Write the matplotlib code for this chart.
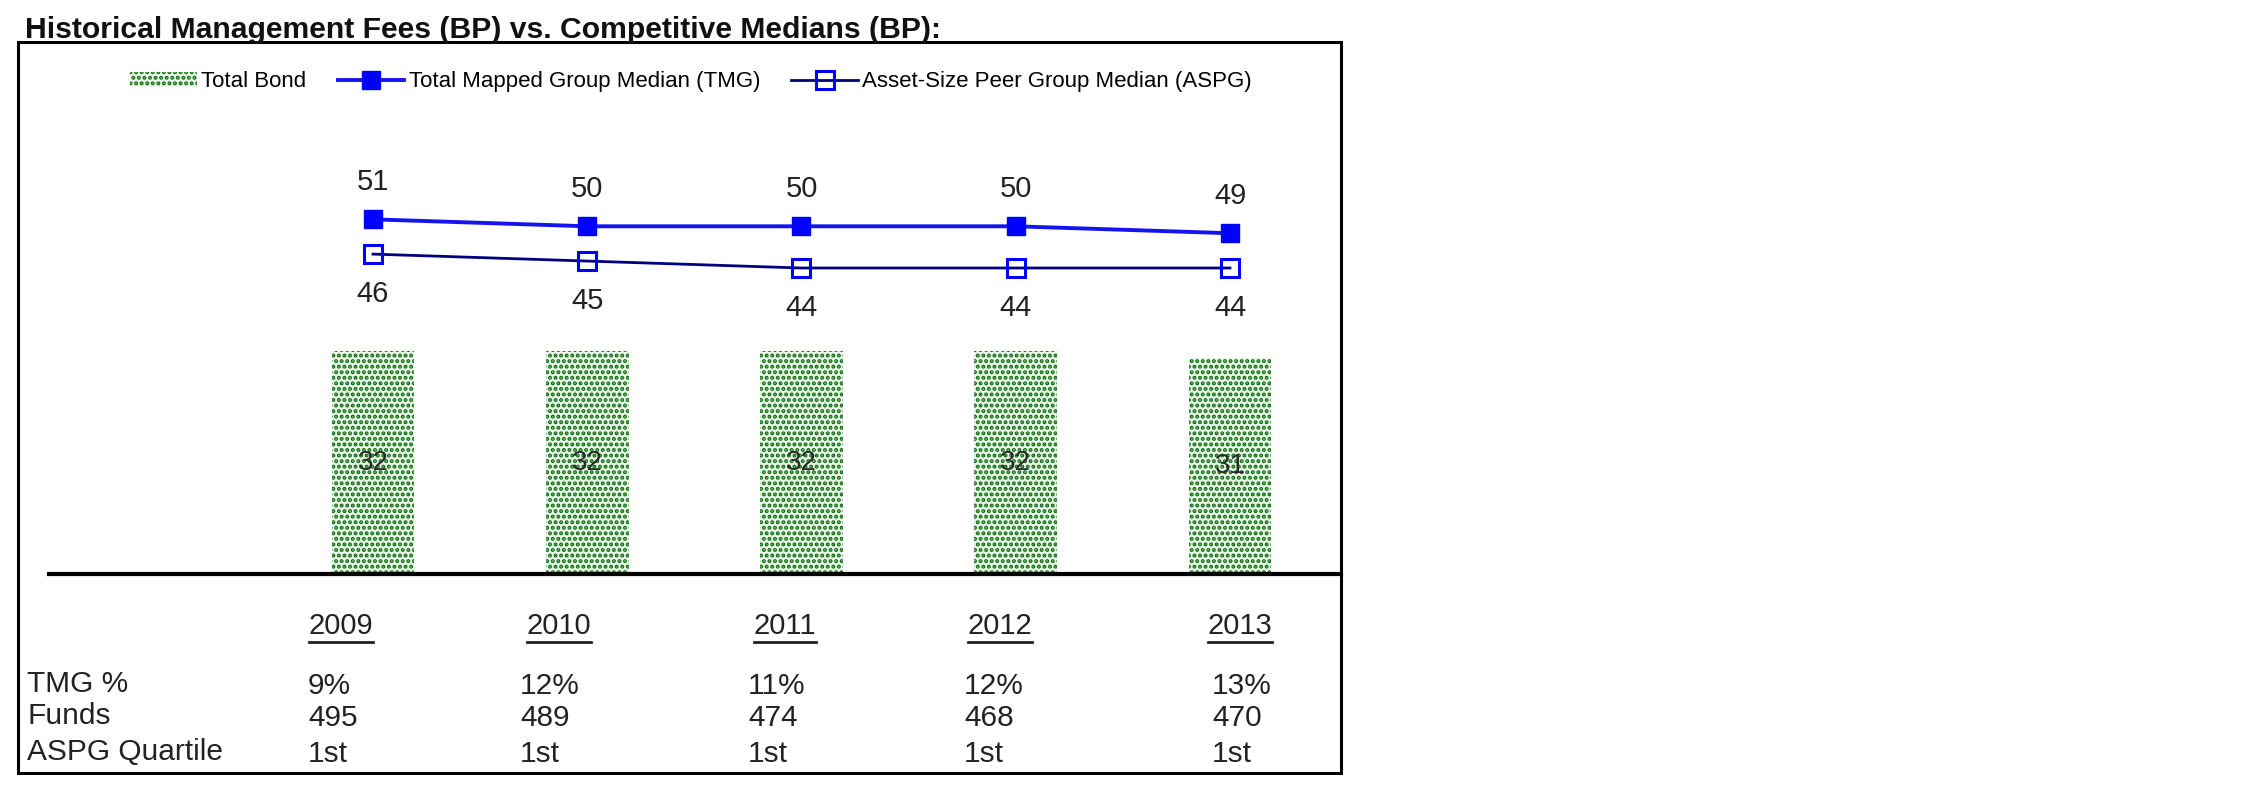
import matplotlib.pyplot as plt
import numpy as np
from matplotlib.patches import Rectangle
from matplotlib.lines import Line2D

plt.rcParams['font.family'] = ['Liberation Sans', 'DejaVu Sans']
plt.rcParams['hatch.linewidth'] = 2.0

# datos
years = ['2009', '2010', '2011', '2012', '2013']
total_bond = [32, 32, 32, 32, 31]
tmg_median = [51, 50, 50, 50, 49]
aspg_median = [46, 45, 44, 44, 44]
tmg_pct = ['9%', '12%', '11%', '12%', '13%']
funds = [495, 489, 474, 468, 470]
aspg_quartile = ['1st', '1st', '1st', '1st', '1st']

W, H = 2251, 798
fig = plt.figure(figsize=(W / 100, H / 100), dpi=100)


def fx(px):
    return px / W


def fy(py):
    return 1 - py / H


# area del grafico (pixeles)
ax = fig.add_axes([fx(49), fy(574), fx(1341) - fx(49), fy(42) - fy(574)])
x = np.arange(len(years))

bars = ax.bar(x, total_bond, width=0.387, color='#eaf5ea', edgecolor='#0a6e0a',
              linewidth=0, hatch='...', label='Total Bond')
for xi, v in zip(x, total_bond):
    ax.text(xi, v / 2, str(v), ha='center', va='center', fontsize=20, color='#2a2a2a')

l_tmg, = ax.plot(x, tmg_median, color='#1414f0', lw=2.8, marker='s', ms=13,
                 mfc='#0000ff', mec='#0000ff', label='Total Mapped Group Median (TMG)')
l_aspg, = ax.plot(x, aspg_median, color='#000080', lw=2.0, marker='s', ms=12.5,
                  mfc='none', mec='#0000ff', mew=2.2, label='Asset-Size Peer Group Median (ASPG)')

for xi, v in zip(x, tmg_median):
    ax.annotate(str(v), (xi, v), xytext=(0, 27), textcoords='offset points',
                ha='center', va='center', fontsize=21, color='#222222')
for xi, v in zip(x, aspg_median):
    ax.annotate(str(v), (xi, v), xytext=(0, -29), textcoords='offset points',
                ha='center', va='center', fontsize=21, color='#222222')

ax.set_xlim(-1.512, 4.518)
ax.set_ylim(0, 76.5)
ax.set_xticks([])
ax.set_yticks([])
for s in ['top', 'left', 'right']:
    ax.spines[s].set_visible(False)
ax.spines['bottom'].set_linewidth(3)
ax.spines['bottom'].set_color('black')

ax.legend(handles=[bars, l_tmg, l_aspg], loc='center', bbox_to_anchor=(0.497, 0.925),
          ncol=3, frameon=False, fontsize=16, handlelength=3.0, handletextpad=0.2,
          columnspacing=1.4)

# titulo y recuadro
fig.text(fx(25), fy(38), 'Historical Management Fees (BP) vs. Competitive Medians (BP):',
         fontsize=21.7, fontweight='bold', va='baseline', ha='left', color='#111111')
fig.add_artist(Rectangle((fx(18), fy(773)), fx(1341) - fx(18), fy(42) - fy(773),
                         transform=fig.transFigure, fill=False, lw=2.2, color='black'))

# tabla inferior
year_x = [341, 559, 785, 1000, 1240]
col_x = [308, 520, 748, 964, 1212]
row_y = [684, 716, 752]
row_labels = ['TMG %', 'Funds', 'ASPG Quartile']
rows = [tmg_pct, [str(f) for f in funds], aspg_quartile]

year_texts = []
for xc, yr in zip(year_x, years):
    t = fig.text(fx(xc), fy(626), yr, ha='center', va='center', fontsize=21, color='#222222')
    year_texts.append(t)

for ry, lab, vals in zip(row_y, row_labels, rows):
    fig.text(fx(27), fy(ry), lab, ha='left', va='center', fontsize=21.5, color='#222222')
    for xc, v in zip(col_x, vals):
        fig.text(fx(xc), fy(ry + 2), v, ha='left', va='center', fontsize=21.5, color='#222222')

# subrayado de los años
fig.canvas.draw()
renderer = fig.canvas.get_renderer()
for t in year_texts:
    bb = t.get_window_extent(renderer).transformed(fig.transFigure.inverted())
    yline = bb.y0 - 2 / H
    fig.add_artist(Line2D([bb.x0, bb.x1], [yline, yline], transform=fig.transFigure,
                          color='#222222', lw=2))

plt.savefig('out.png', dpi=100)
plt.close()
